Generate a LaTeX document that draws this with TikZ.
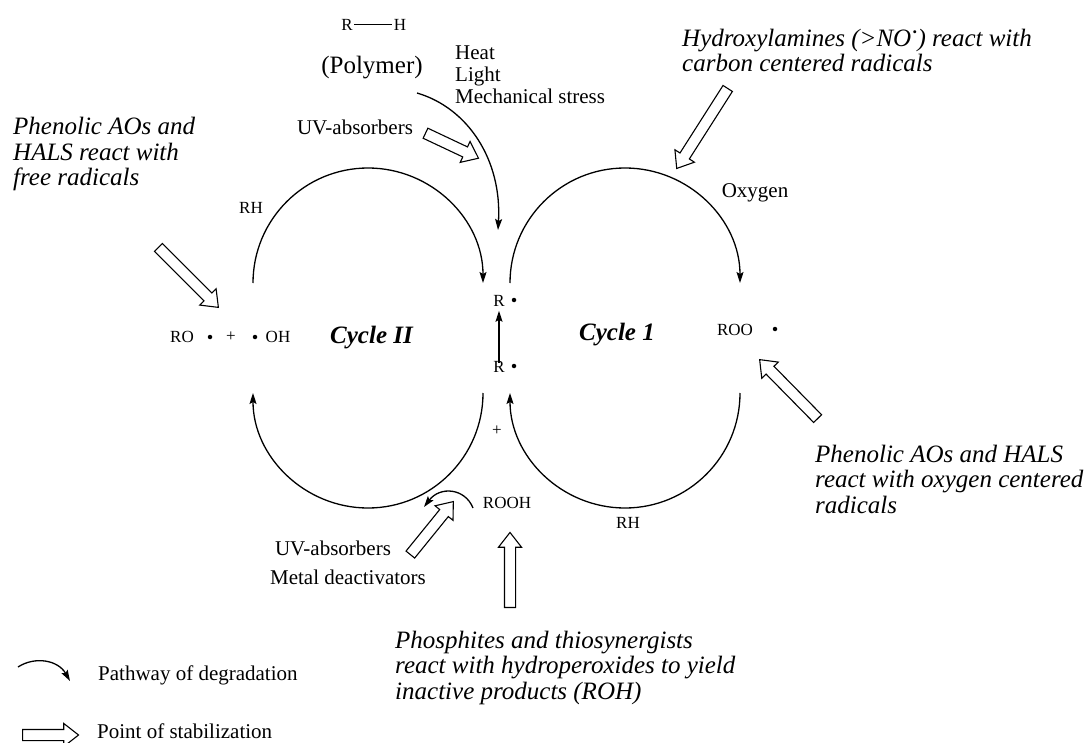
\documentclass[tikz,border=0pt]{standalone}
\usepackage{fontspec}
\setmainfont{Liberation Serif}
\usepackage{graphicx}
\usetikzlibrary{shapes.arrows,arrows.meta,calc}

\newcommand\openarr[3]{%
  \path let \p1=(#1), \p2=(#2), \n1={atan2(\y2-\y1,\x2-\x1)}, \n2={veclen(\x2-\x1,\y2-\y1)} in
    node[hollow, rotate=\n1, minimum height=\n2, anchor=tail] (#3) at (\p1) {};}

\begin{document}
\begin{tikzpicture}[x=1pt,y=1pt,
  every node/.style={inner sep=0pt},
  itx/.style={font=\fontsize{25}{25.5}\selectfont\itshape, align=left, anchor=base west},
  rtx/.style={font=\fontsize{21}{22}\selectfont},
  chm/.style={font=\fontsize{17}{18}\selectfont},
  cyc/.style={font=\fontsize{25}{26}\selectfont\bfseries\itshape},
  rdot/.style={circle, fill=black, minimum size=4.5pt, inner sep=0pt},
  degr/.style={line width=1.3pt, -{Stealth[length=11pt,width=7pt,inset=2pt]}},
  hollow/.style={single arrow, draw=black, line width=1.1pt, fill=white, inner sep=5pt,
    single arrow head extend=6pt, single arrow tip angle=76}
]
\useasboundingbox (0,0) rectangle (1086,-743);

% ---------- top: polymer ----------
\node[chm, inner sep=1.5pt] (rtop) at (347,-25) {R};
\node[chm, inner sep=1.5pt] (htop) at (400,-25) {H};
\draw[line width=1pt] (rtop) -- (htop);
\node[font=\fontsize{25}{26}\selectfont] (poly) at (372,-68) {(Polymer)};
% base anchor of a multi-line node is the baseline of its last line
\node[rtx, align=left, anchor=base west] (heat) at (455,-104) {Heat\\Light\\Mechanical stress};
\node[rtx] (uvtop) at (355,-127) {UV-absorbers};

% ---------- italic annotations ----------
\node[itx] (phenL) at (13,-186) {Phenolic AOs and\\HALS react with\\free radicals};
\node[itx] (hyd) at (682,-72) {Hydroxylamines (>NO\raisebox{.25em}{·}) react with\\carbon centered radicals};
\node[itx] (phenR) at (815,-513) {Phenolic AOs and HALS\\react with oxygen centered\\radicals};
\node[itx] (phos) at (395,-699) {Phosphites and thiosynergists\\react with hydroperoxides to yield\\inactive products (ROH)};

% ---------- species ----------
\node[rtx, anchor=base] (oxy) at (755,-198) {Oxygen};
\node[chm] (rhL) at (251,-208) {RH};
\node[chm] (ro) at (182,-337) {RO};
\node[rdot] (rod) at (210,-337) {};
\node[chm] (plusL) at (231,-337) {+};
\node[rdot] (ohd) at (255,-337) {};
\node[chm] (oh) at (278,-337) {OH};
\node[cyc, anchor=base west] (cyc2) at (330,-343) {Cycle II};
\node[cyc, anchor=base east] (cyc1) at (655,-340) {Cycle 1};
\node[chm] (rup) at (499,-301) {R};
\node[rdot] (rupd) at (514,-300) {};
\node[chm] (rlow) at (499,-367) {R};
\node[rdot] (rlowd) at (514,-366) {};
\node[chm] (plusC) at (497,-431) {+};
\node[chm] (roo) at (735,-330) {ROO};
\node[rdot] (rood) at (775,-329) {};
\node[chm] (rooh) at (507,-503) {ROOH};
\node[chm] (rhB) at (628,-523) {RH};
\node[rtx] (uvbot) at (333,-548) {UV-absorbers};
\node[rtx] (metal) at (348,-577) {Metal deactivators};

% ---------- cycle arcs ----------
\coordinate (c2a) at (253,-283);
\coordinate (c2b) at (483,-393);
\coordinate (c1a) at (510,-283);
\coordinate (c1b) at (740,-393);
\draw[degr] (c2a) arc[start angle=180, end angle=0, radius=115pt];
\draw[degr] (c2b) arc[start angle=0, end angle=-180, radius=115pt];
\draw[degr] (c1a) arc[start angle=180, end angle=0, radius=115pt];
\draw[degr] (c1b) arc[start angle=0, end angle=-180, radius=115pt];

% heat / light pathway
\coordinate (hs) at (417,-93);
\coordinate (he) at (498,-230);
\draw[degr] (hs) .. controls (468,-108) and (502,-160) .. (he);

% R. -> R.
\coordinate (ra) at ($(rlow.north)+(0,-2)$);
\coordinate (rb) at ($(rup.south)+(0,-4)$);
\draw[degr] (ra) -- (rb);

% ROOH small pathway
\coordinate (ps) at (473,-508);
\coordinate (pe) at (424,-507);
\draw[degr] (ps) .. controls (465,-488) and (440,-486) .. (pe);

% ---------- stabilization arrows ----------
\coordinate (a1s) at (425,-133); \coordinate (a1e) at (478,-158);
\coordinate (a2s) at (728,-88);  \coordinate (a2e) at (677,-168);
\coordinate (a3s) at (158,-247); \coordinate (a3e) at (218,-307);
\coordinate (a4s) at (818,-419); \coordinate (a4e) at (760,-360);
\coordinate (a5s) at (410,-555); \coordinate (a5e) at (453,-502);
\coordinate (a6s) at (510,-608); \coordinate (a6e) at (510,-533);
\openarr{a1s}{a1e}{h1}
\openarr{a2s}{a2e}{h2}
\openarr{a3s}{a3e}{h3}
\openarr{a4s}{a4e}{h4}
\openarr{a5s}{a5e}{h5}
\openarr{a6s}{a6e}{h6}

% ---------- legend ----------
\coordinate (l1s) at (18,-667); \coordinate (l1e) at (70,-681);
\draw[degr] (l1s) .. controls (35,-656) and (58,-660) .. (l1e);
\node[rtx, anchor=base west] (leg1) at (98,-680) {Pathway of degradation};
\coordinate (l2s) at (22,-735); \coordinate (l2e) at (78,-735);
\openarr{l2s}{l2e}{h7}
\node[rtx, anchor=base west] (leg2) at (97,-738) {Point of stabilization};
\end{tikzpicture}
\end{document}
